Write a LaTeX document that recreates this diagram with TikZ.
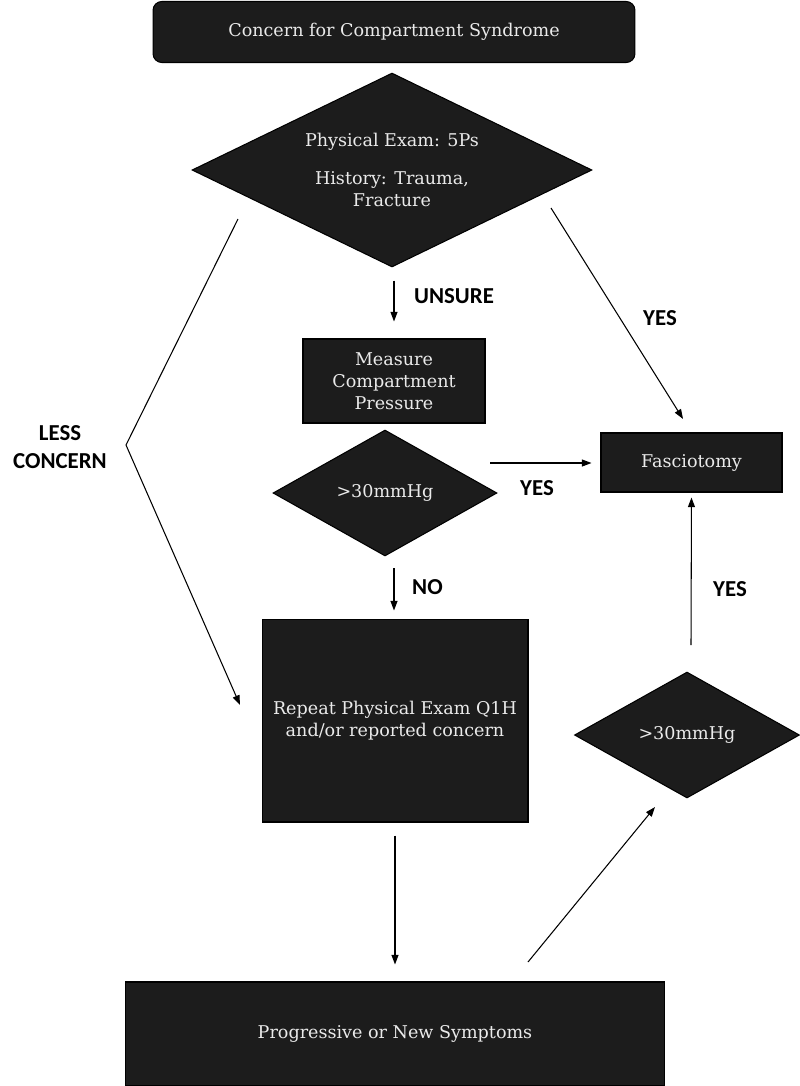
\documentclass[tikz,border=0pt]{standalone}
\usepackage{fontspec}
\setmainfont{DejaVu Serif}
\newfontfamily\lblfont{Carlito}
\usetikzlibrary{shapes.geometric,arrows.meta}
\definecolor{boxfill}{HTML}{1C1C1C}
\definecolor{boxtext}{HTML}{EAEAEA}
\tikzset{
  box/.style={draw=black, fill=boxfill, text=boxtext, line width=0.6pt, inner sep=0pt,
    align=center, font=\fontsize{10}{12.6}\selectfont},
  decide/.style={box, diamond, aspect=1.78},
  flow/.style={-{Triangle[length=5.5pt,width=4pt]}, line width=0.6pt},
  lbl/.style={font=\lblfont\bfseries\fontsize{13}{15.5}\selectfont, align=center}
}
\begin{document}
\begin{tikzpicture}[x=0.02cm, y=-0.02cm]
        \useasboundingbox (0,0) rectangle (800,1086);

        % Define boxes
        \node[box, rounded corners=5pt, minimum width=9.64cm, minimum height=1.22cm] (start) at (394,32) {Concern for Compartment Syndrome};
        \node[decide, minimum width=8cm, minimum height=3.88cm] (exam) at (392,170) {Physical Exam: 5Ps\\[8.5pt]History: Trauma,\\Fracture};
        \node[box, minimum width=3.64cm, minimum height=1.68cm] (measure) at (394,381) {Measure\\Compartment\\Pressure};
        \node[decide, minimum width=4.48cm, minimum height=2.52cm] (gateA) at (385,493) {>30mmHg};
        \node[box, minimum width=3.62cm, minimum height=1.18cm] (fasc) at (691.5,462.5) {Fasciotomy};
        \node[box, minimum width=5.32cm, minimum height=4.06cm] (repeat) at (395,720.5) {Repeat Physical Exam Q1H\\and/or reported concern};
        \node[decide, minimum width=4.5cm, minimum height=2.52cm] (gateB) at (687,735) {>30mmHg};
        \node[box, minimum width=10.8cm, minimum height=2.08cm] (prog) at (395,1034) {Progressive or New Symptoms};

        % Define free ends
        \coordinate (lessTop) at (238,219);
        \coordinate (lessBend) at (126,445);
        \coordinate (lessEnd) at (240,705);
        \coordinate (yesTop) at (551,208);
        \coordinate (yesMid) at (490,463);
        \coordinate (noTop) at (394,568);
        \coordinate (riseFoot) at (528,962);
        \coordinate (riseEnd) at (655,807);
        \coordinate (yesLow) at (691,645);

        % Draw connectors
        \draw[flow, shorten <=0.26cm, shorten >=0.34cm] (measure.north |- exam.south) -- (measure.north);
        \draw[flow] (lessTop) -- (lessBend) -- (lessEnd);
        \draw[flow, shorten >=0.32cm] (yesTop) -- (fasc.north);
        \draw[flow, shorten >=0.18cm] (yesMid) -- (yesMid -| fasc.west);
        \draw[flow, shorten >=0.16cm] (noTop) -- (noTop |- repeat.north);
        \draw[flow, shorten <=0.26cm, shorten >=0.34cm] (repeat.south) -- (prog.north);
        \draw[flow] (riseFoot) -- (riseEnd);
        \draw[flow, shorten >=0.1cm] (yesLow) -- (fasc.south);

        % Draw labels
        \node[lbl, anchor=west] (unsure) at (408,296) {UNSURE};
        \node[lbl] (yesA) at (660,318) {YES};
        \node[lbl] (yesB) at (537,488) {YES};
        \node[lbl, anchor=west] (no) at (406,587) {NO};
        \node[lbl] (yesC) at (730,589) {YES};
        \node[lbl] (less) at (60,447) {LESS\\CONCERN};
\end{tikzpicture}
\end{document}
